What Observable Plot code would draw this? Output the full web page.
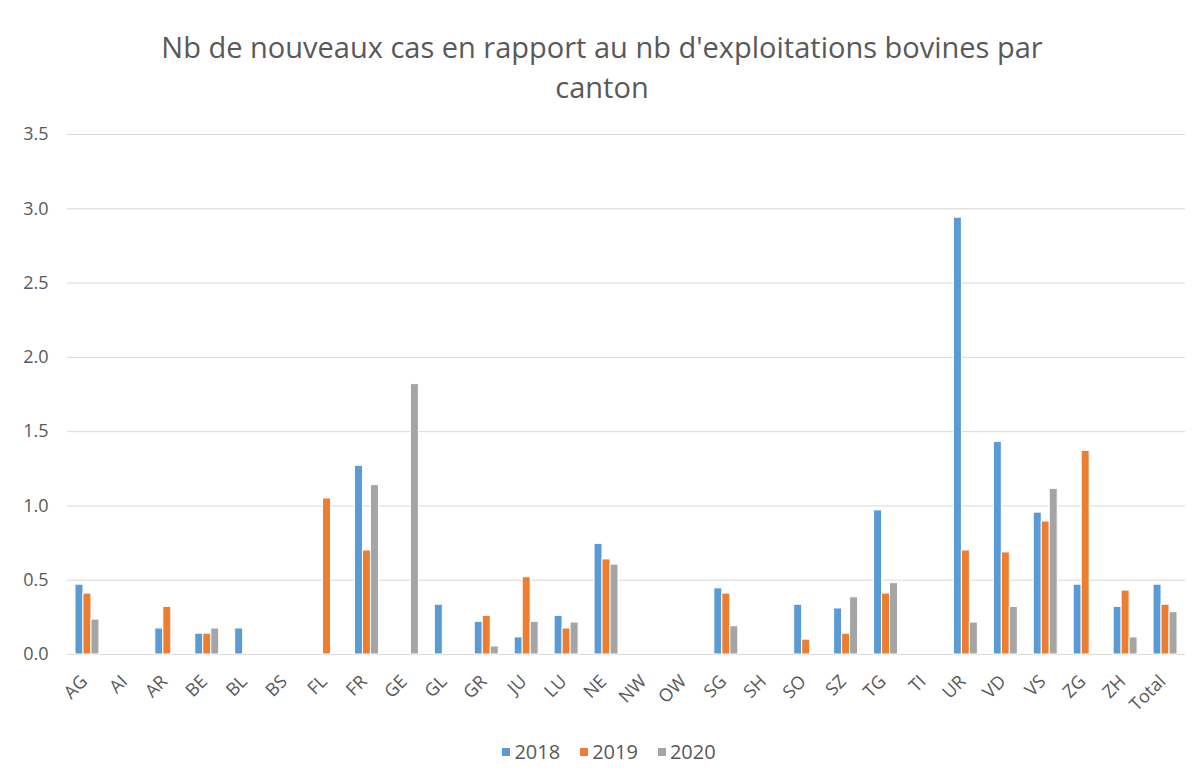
<!DOCTYPE html>
<html>
<head>
<meta charset="utf-8">
<script src="https://cdn.jsdelivr.net/npm/d3@7"></script>
<script src="https://cdn.jsdelivr.net/npm/@observablehq/plot@0.6"></script>
<style>
  body { margin: 0; background: #fff; font-family: "Open Sans", "Noto Sans", sans-serif; color: #595959; }
  #title { text-align: center; font-size: 29px; line-height: 40px; padding-top: 27px; height: 83px; box-sizing: content-box; }
  #legend { display: flex; justify-content: center; gap: 20px; font-size: 20px; line-height: 26px; margin-top: 9px; padding-left: 14px; }
  #legend span.sw { display: inline-block; flex-shrink: 0; width: 8px; height: 8px; margin-right: 4px; }
  #legend div { display: flex; align-items: center; }
</style>
</head>
<body>
<div id="title">Nb de nouveaux cas en rapport au nb d'exploitations bovines par<br>canton</div>
<div id="chart"></div>
<div id="legend"></div>
<script>
const cantons = ["AG","AI","AR","BE","BL","BS","FL","FR","GE","GL","GR","JU","LU","NE","NW","OW","SG","SH","SO","SZ","TG","TI","UR","VD","VS","ZG","ZH","Total"];
const years = ["2018","2019","2020"];
const colors = ["#5B9BD5","#ED7D31","#A5A5A5"];
const v2018 = [0.47,null,0.175,0.14,0.175,null,null,1.27,null,0.335,0.22,0.115,0.26,0.745,null,null,0.445,null,0.335,0.31,0.97,null,2.94,1.43,0.955,0.47,0.32,0.47];
const v2019 = [0.41,null,0.32,0.14,null,null,1.05,0.70,null,null,0.26,0.52,0.175,0.64,null,null,0.41,null,0.10,0.14,0.41,null,0.70,0.687,0.895,1.37,0.43,0.335];
const v2020 = [0.235,null,null,0.175,null,null,null,1.14,1.82,null,0.054,0.22,0.215,0.605,null,null,0.19,null,null,0.385,0.48,null,0.215,0.32,1.115,null,0.115,0.285];
const yTicks = [0,0.5,1,1.5,2,2.5,3,3.5];

const series = [v2018, v2019, v2020];
const data = [];
series.forEach((vals, i) => vals.forEach((v, j) => { if (v != null) data.push({canton: cantons[j], year: years[i], value: v}); }));

const W = 1204, mL = 67, mR = 19;
const bw = (W - mL - mR) / cantons.length * 0.6;

const marks = [
  Plot.ruleY(yTicks, {stroke: "#d9d9d9", strokeWidth: 1})
];
years.forEach((yr, i) => {
  marks.push(Plot.barY(data.filter(d => d.year === yr), {
    x: "canton", y: "value", fill: colors[i], stroke: "white", strokeWidth: 1,
    insetLeft: i * bw / 3, insetRight: (2 - i) * bw / 3
  }));
});
marks.push(Plot.axisX({tickRotate: -45, tickSize: 0, tickPadding: 24, dx: -3, label: null}));
marks.push(Plot.axisY({ticks: yTicks, tickFormat: d3.format(".1f"), tickSize: 0, tickPadding: 19, label: null}));

const plot = Plot.plot({
  width: W,
  height: 620,
  marginLeft: mL,
  marginRight: mR,
  marginTop: 24,
  marginBottom: 76,
  style: {fontFamily: "'Open Sans', 'Noto Sans', sans-serif", fontSize: "18px", color: "#595959", background: "white"},
  x: {domain: cantons, round: false, paddingInner: 0.4, paddingOuter: 0.2},
  y: {domain: [0, 3.5]},
  marks
});
document.getElementById("chart").appendChild(plot);

const legend = document.getElementById("legend");
years.forEach((yr, i) => {
  const d = document.createElement("div");
  d.innerHTML = `<span class="sw" style="background:${colors[i]}"></span>${yr}`;
  legend.appendChild(d);
});
</script>
</body>
</html>
